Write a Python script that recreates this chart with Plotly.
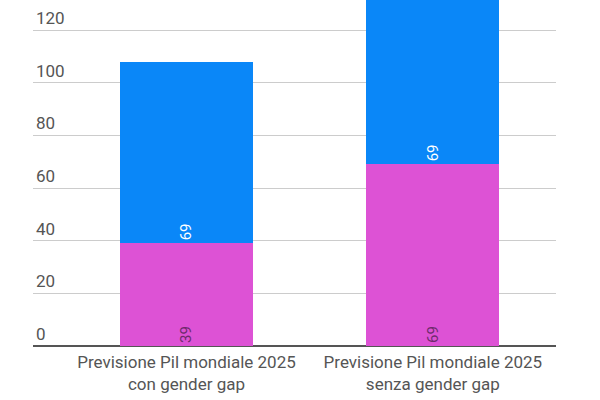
import plotly.graph_objects as go

categories = ["Previsione Pil mondiale 2025<br>con gender gap",
              "Previsione Pil mondiale 2025<br>senza gender gap"]
pink_values = [39, 69]
blue_values = [69, 69]
y_ticks = [0, 20, 40, 60, 80, 100, 120]

fig = go.Figure()
fig.add_trace(go.Bar(
    x=categories, y=pink_values, marker=dict(color="#dd52d5", line=dict(width=0)),
    text=[str(v) for v in pink_values], textposition="inside", insidetextanchor="start",
    textangle=-90, textfont=dict(family="Roboto", size=15, color="#6e2a6c"),
    hoverinfo="skip"))
fig.add_trace(go.Bar(
    x=categories, y=blue_values, marker=dict(color="#0a87f8", line=dict(width=0)),
    text=[str(v) for v in blue_values], textposition="inside", insidetextanchor="start",
    textangle=-90, textfont=dict(family="Roboto", size=15, color="#ffffff"),
    hoverinfo="skip"))

fig.update_layout(
    barmode="stack", bargap=0.46, width=600, height=400,
    margin=dict(l=33, r=44, t=0, b=50),
    paper_bgcolor="white", plot_bgcolor="white", showlegend=False,
    font=dict(family="Roboto", color="#555555"),
)
fig.update_xaxes(range=[-0.623, 1.5], showgrid=False, ticks="", showline=False,
                 tickfont=dict(size=17, color="#555555"), ticklabelstandoff=0)
fig.update_yaxes(range=[-1.5, 131.4], tickvals=y_ticks, showgrid=True, gridcolor="#cccccc",
                 gridwidth=1, zeroline=True, zerolinecolor="#555555", zerolinewidth=2,
                 ticklabelposition="inside", ticklabelshift=-12, ticklabelstandoff=0,
                 tickfont=dict(size=17, color="#555555"), layer="below traces")
fig.write_html("out.html", config={"displayModeBar": False},
               post_script="document.body.style.margin='0';")
